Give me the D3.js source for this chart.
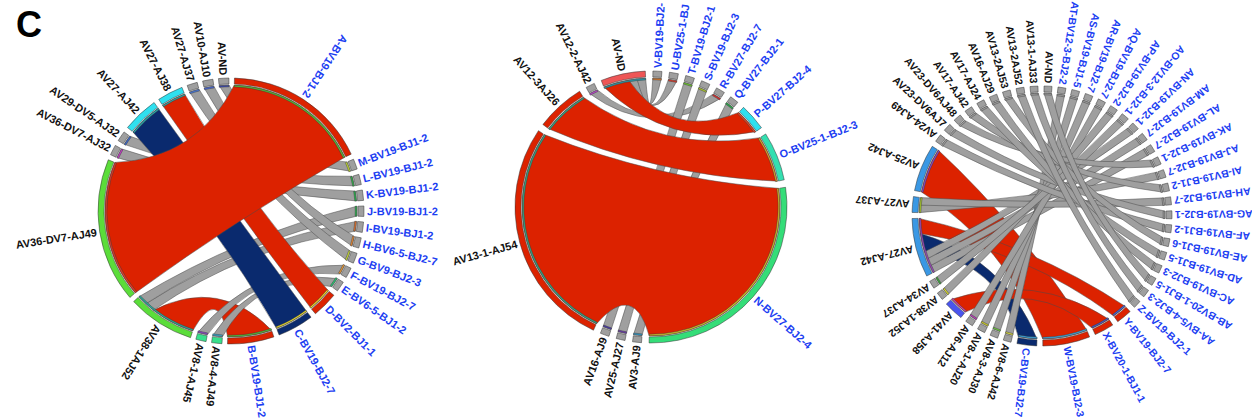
<!DOCTYPE html>
<html>
<head>
<meta charset="utf-8">
<script src="https://cdn.jsdelivr.net/npm/d3@7"></script>
<style>
  html, body { margin: 0; padding: 0; background: #fff; }
  svg { display: block; font-family: "Liberation Sans", Arial, sans-serif; }
</style>
</head>
<body>
<svg id="chart" width="1252" height="420"></svg>
<script>
// ---------- Panel 1: TCR alpha / beta pairings ----------
const p1Beta = ["A-BV19-BJ1-2","M-BV19-BJ1-2","L-BV19-BJ1-2","K-BV19-BJ1-2","J-BV19-BJ1-2",
  "I-BV19-BJ1-2","H-BV6-5-BJ2-7","G-BV9-BJ2-3","F-BV19-BJ2-7","E-BV6-5-BJ1-2",
  "D-BV2-BJ1-1","C-BV19-BJ2-7","B-BV19-BJ1-2"];
const p1Alpha = ["AV8-4-AJ49","AV8-1-AJ45","AV38-1AJ52","AV36-DV7-AJ49","AV36-DV7-AJ32",
  "AV29-DV5-AJ32","AV27-AJ42","AV27-AJ38","AV27-AJ37","AV10-AJ10","AV-ND"];
// [alpha, beta, clone count, chord class]
const p1Pairs = [
  ["AV36-DV7-AJ49","A-BV19-BJ1-2",28,"red"],
  ["AV38-1AJ52","B-BV19-BJ1-2",9,"red"],
  ["AV27-AJ42","C-BV19-BJ2-7",7,"navy"],
  ["AV27-AJ38","D-BV2-BJ1-1",5,"red"],
  ["AV8-4-AJ49","E-BV6-5-BJ1-2",2,"gray"],
  ["AV8-1-AJ45","F-BV19-BJ2-7",2,"gray"],
  ["AV38-1AJ52","I-BV19-BJ1-2",2,"gray"],
  ["AV38-1AJ52","J-BV19-BJ1-2",2,"gray"],
  ["AV36-DV7-AJ32","K-BV19-BJ1-2",2,"gray"],
  ["AV29-DV5-AJ32","L-BV19-BJ1-2",2,"gray"],
  ["AV27-AJ37","G-BV9-BJ2-3",2,"gray"],
  ["AV10-AJ10","H-BV6-5-BJ2-7",2,"gray"],
  ["AV-ND","M-BV19-BJ1-2",2,"gray"]
];

// ---------- Panel 2 ----------
const p2Beta = ["V-BV19-BJ2-","U-BV25-1-BJ","T-BV19-BJ2-1","S-BV19-BJ2-3","R-BV27-BJ2-7",
  "Q-BV27-BJ2-1","P-BV27-BJ2-4","O-BV25-1-BJ2-3","N-BV27-BJ2-4"];
const p2Alpha = ["AV3-AJ9","AV25-AJ27","AV16-AJ9","AV13-1-AJ54","AV12-3AJ26","AV12-2-AJ42","AV-ND"];
const p2Pairs = [
  ["AV13-1-AJ54","N-BV27-BJ2-4",26,"red"],
  ["AV12-3AJ26","O-BV25-1-BJ2-3",5.5,"red"],
  ["AV-ND","P-BV27-BJ2-4",3,"red"],
  ["AV-ND","U-BV25-1-BJ",1,"gray"],
  ["AV-ND","V-BV19-BJ2-",1,"gray"],
  ["AV12-2-AJ42","R-BV27-BJ2-7",1,"gray"],
  ["AV16-AJ9","T-BV19-BJ2-1",1,"gray"],
  ["AV25-AJ27","S-BV19-BJ2-3",1,"gray"],
  ["AV3-AJ9","Q-BV27-BJ2-1",1,"gray"]
];

// ---------- Panel 3 ----------
const p3Beta = ["AT-BV12-3-BJ2-2","AS-BV19-BJ1-5","AR-BV19-BJ2-7","AQ-BV19-BJ2-7","AP-BV19-BJ2-2",
  "AO-BV12-3-BJ2-1","AN-BV19-BJ2-1","AM-BV19-BJ2-7","AL-BV19-BJ2-7","AK-BV19-BJ2-1",
  "AJ-BV19-BJ2-7","AI-BV19-BJ1-2","AH-BV19-BJ2-7","AG-BV19-BJ2-1","AF-BV19-BJ1-2",
  "AE-BV19-BJ1-6","AD-BV19-BJ1-5","AC-BV19-BJ2-3","AB-BV20-1-BJ1-5","AA-BV5-4-BJ2-3",
  "Z-BV19-BJ2-1","Y-BV19-BJ2-7","X-BV20-1-BJ1-1","W-BV19-BJ2-3","C-BV19-BJ2-7"];
const p3Alpha = ["AV8-6-AJ42","AV8-3-AJ30","AV8-1-AJ20","AV6-AJ12","AV41-AJ58","AV38-1AJ52",
  "AV34-AJ37","AV27-AJ42","AV27-AJ37","AV25-AJ42","AV24-AJ49","AV23-DV6AJ7","AV23-DV6AJ48",
  "AV17-AJ42","AV17-AJ24","AV16-AJ29","AV13-2AJ53","AV13-2AJ52","AV13-1-AJ33","AV-ND"];
const p3Pairs = [
  ["AV25-AJ42","W-BV19-BJ2-3",6,"red"],
  ["AV41-AJ58","X-BV20-1-BJ1-1",2.5,"red"],
  ["AV27-AJ42","AL-BV19-BJ2-7",1,"gray"],
  ["AV27-AJ42","AM-BV19-BJ2-7",1,"gray"],
  ["AV27-AJ42","AN-BV19-BJ2-1",1,"gray"],
  ["AV27-AJ42","C-BV19-BJ2-7",2.5,"navy"],
  ["AV27-AJ42","Y-BV19-BJ2-7",2,"red"],
  ["AV27-AJ37","AJ-BV19-BJ2-7",1,"gray"],
  ["AV27-AJ37","AH-BV19-BJ2-7",1,"gray"],
  ["AV8-6-AJ42","AT-BV12-3-BJ2-2",1,"gray"],
  ["AV8-3-AJ30","AS-BV19-BJ1-5",1,"gray"],
  ["AV8-1-AJ20","AR-BV19-BJ2-7",1,"gray"],
  ["AV6-AJ12","AQ-BV19-BJ2-7",1,"gray"],
  ["AV38-1AJ52","AP-BV19-BJ2-2",1,"gray"],
  ["AV34-AJ37","AO-BV12-3-BJ2-1",1,"gray"],
  ["AV24-AJ49","AF-BV19-BJ1-2",1,"gray"],
  ["AV23-DV6AJ7","AG-BV19-BJ2-1",1,"gray"],
  ["AV23-DV6AJ48","AK-BV19-BJ2-1",1,"gray"],
  ["AV17-AJ42","AI-BV19-BJ1-2",1,"gray"],
  ["AV17-AJ24","AD-BV19-BJ1-5",1,"gray"],
  ["AV16-AJ29","AC-BV19-BJ2-3",1,"gray"],
  ["AV13-2AJ53","AE-BV19-BJ1-6",1,"gray"],
  ["AV13-2AJ52","Z-BV19-BJ2-1",1,"gray"],
  ["AV13-1-AJ33","AA-BV5-4-BJ2-3",1,"gray"],
  ["AV-ND","AB-BV20-1-BJ1-5",1,"gray"]
];

// ---------- styling ----------
const chordFill = { red: "#dc2200", navy: "#0a2a6e", gray: "#9f9f9f" };
const RED = "#dc2200", NAVY = "#0a2a6e", GRAY = "#9f9f9f";
const GREEN = "#5bdd3a", MINT = "#38e08c", CYAN = "#2fe0ef", SKY = "#3a98e4";

const panels = [
  {
    beta: p1Beta, alpha: p1Alpha, pairs: p1Pairs,
    cx: 231, cy: 211, R: 133, start: 1.5, gap: 2.4, flip: 232, fontSize: 11,
    layer: (p) => p[1].startsWith("A-") ? 3 : p[1].startsWith("B-") ? 0 : p[3] === "gray" ? 1 : 2,
    band: {
      "A-BV19-BJ1-2": RED, "B-BV19-BJ1-2": RED, "D-BV2-BJ1-1": RED, "C-BV19-BJ2-7": NAVY,
      "AV36-DV7-AJ49": GREEN, "AV38-1AJ52": GREEN, "AV8-4-AJ49": MINT, "AV8-1-AJ45": MINT,
      "AV27-AJ42": CYAN, "AV27-AJ38": CYAN
    },
    stripe: {
      "A-BV19-BJ1-2": "#4ec23a", "M-BV19-BJ1-2": "#c4dd30", "L-BV19-BJ1-2": "#2fb24a",
      "K-BV19-BJ1-2": "#22b84a", "J-BV19-BJ1-2": "#22b84a", "I-BV19-BJ1-2": "#e8732a",
      "H-BV6-5-BJ2-7": "#ee8a30", "G-BV9-BJ2-3": "#cde03a", "F-BV19-BJ2-7": "#f09a30",
      "E-BV6-5-BJ1-2": "#28c472", "D-BV2-BJ1-1": "#e8d82a", "C-BV19-BJ2-7": "#e8d82a",
      "B-BV19-BJ1-2": "#4ec23a", "AV8-4-AJ49": "#3aa6cc", "AV8-1-AJ45": "#8a48c8",
      "AV38-1AJ52": "#2aa89a", "AV36-DV7-AJ49": "#e03a2a", "AV36-DV7-AJ32": "#c83ac8",
      "AV29-DV5-AJ32": "#3a68cc", "AV27-AJ42": "#2aa8aa", "AV27-AJ38": "#2aa8aa",
      "AV27-AJ37": "#4a7ad8", "AV10-AJ10": "#4a6ad8", "AV-ND": "#3a48b0"
    }
  },
  {
    beta: p2Beta, alpha: p2Alpha, pairs: p2Pairs,
    cx: 651, cy: 207, R: 136, start: 0.8, gap: 3.2, flip: 180, fontSize: 11,
    layer: (p) => p[3] === "gray" ? 0 : 1,
    band: {
      "AV-ND": "#ee5656", "AV13-1-AJ54": RED, "AV12-3AJ26": RED,
      "P-BV27-BJ2-4": CYAN, "O-BV25-1-BJ2-3": "#34dfb0", "N-BV27-BJ2-4": "#34dd78"
    },
    stripe: {
      "V-BV19-BJ2-": "#dd7a2a", "U-BV25-1-BJ": "#dd3a2a", "T-BV19-BJ2-1": "#6ccc2a",
      "S-BV19-BJ2-3": "#b0cc2a", "R-BV27-BJ2-7": "#dd2a2a", "Q-BV27-BJ2-1": "#2aaa4a",
      "P-BV27-BJ2-4": "#dd4a2a", "O-BV25-1-BJ2-3": "#ddaa2a", "N-BV27-BJ2-4": "#cfc02a",
      "AV3-AJ9": "#2a9acc", "AV25-AJ27": "#6a3aaa", "AV16-AJ9": "#4a3aaa",
      "AV13-1-AJ54": "#2aaa8a", "AV12-3AJ26": "#2aaa8a", "AV12-2-AJ42": "#bb48cc",
      "AV-ND": "#2a9aaa"
    }
  },
  {
    beta: p3Beta, alpha: p3Alpha, pairs: p3Pairs,
    cx: 1042, cy: 216, R: 130, start: 7.1, gap: 2.68, flip: 312, fontSize: 10.5,
    layer: (p) => p[3] === "navy" ? 0 : p[3] === "red" ? 1 : 2,
    band: {
      "W-BV19-BJ2-3": RED, "X-BV20-1-BJ1-1": RED, "Y-BV19-BJ2-7": RED, "C-BV19-BJ2-7": NAVY,
      "AV25-AJ42": SKY, "AV27-AJ37": SKY, "AV27-AJ42": SKY, "AV41-AJ58": "#4a55ee"
    },
    stripe: {
      "W-BV19-BJ2-3": "#3aa8e0", "X-BV20-1-BJ1-1": "#3a5ad0", "Y-BV19-BJ2-7": "#3a68dd",
      "C-BV19-BJ2-7": "#3aa8e0", "AV25-AJ42": "#8a48cc", "AV27-AJ37": "#aacc2a",
      "AV27-AJ42": "#9a48bb", "AV34-AJ37": "#3aaa3a", "AV38-1AJ52": "#dddd2a",
      "AV41-AJ58": "#cc48aa", "AV6-AJ12": "#bb3abb", "AV8-1-AJ20": "#cccc2a",
      "AV8-3-AJ30": "#6acc3a", "AV8-6-AJ42": "#dddd3a"
    }
  }
];

const svg = d3.select("#chart");
const toRad = d => d * Math.PI / 180;
const BLUE_TEXT = "#1c3ef2";

function drawPanel(cfg) {
  const order = cfg.beta.concat(cfg.alpha);
  const betaSet = new Set(cfg.beta);
  const total = new Map(order.map(n => [n, 0]));
  cfg.pairs.forEach(([a, b, v]) => {
    total.set(a, total.get(a) + v);
    total.set(b, total.get(b) + v);
  });
  const grand = d3.sum(order, n => total.get(n));
  // clone counts -> degrees of arc, after removing the gaps between sectors
  const angle = d3.scaleLinear().domain([0, grand]).range([0, 360 - order.length * cfg.gap]);

  const sectors = new Map();
  let cum = 0;
  order.forEach((n, i) => {
    const a0 = cfg.start + angle(cum) + i * cfg.gap;
    cum += total.get(n);
    const a1 = cfg.start + angle(cum) + i * cfg.gap;
    sectors.set(n, { name: n, a0, a1, cur: a0 });
  });

  // link ends are stacked inside each sector in list order
  const links = cfg.pairs.map((p, i) => {
    const sa = sectors.get(p[0]), sb = sectors.get(p[1]);
    const w = angle(p[2]);
    const ea = [sa.cur, sa.cur + w]; sa.cur += w;
    const eb = [sb.cur, sb.cur + w]; sb.cur += w;
    return { p, i, ea, eb, layer: cfg.layer(p) };
  });

  const g = svg.append("g").attr("transform", `translate(${cfg.cx},${cfg.cy})`);
  const R = cfg.R;
  const rLink = R - 7;
  const k = 0.6;
  const pt = (deg, r) => [r * Math.cos(toRad(deg - 90)), r * Math.sin(toRad(deg - 90))];

  function ribbon(ea, eb) {
    const p = d3.path();
    const s0 = pt(ea[0], rLink), s1 = pt(ea[1], rLink);
    const t0 = pt(eb[0], rLink), t1 = pt(eb[1], rLink);
    p.moveTo(s0[0], s0[1]);
    p.arc(0, 0, rLink, toRad(ea[0] - 90), toRad(ea[1] - 90));
    p.quadraticCurveTo(k * (s1[0] + t0[0]) / 2, k * (s1[1] + t0[1]) / 2, t0[0], t0[1]);
    p.arc(0, 0, rLink, toRad(eb[0] - 90), toRad(eb[1] - 90));
    p.quadraticCurveTo(k * (t1[0] + s0[0]) / 2, k * (t1[1] + s0[1]) / 2, s0[0], s0[1]);
    p.closePath();
    return p.toString();
  }

  const drawOrder = links.slice().sort((a, b) => a.layer - b.layer || a.i - b.i);
  g.append("g").selectAll("path").data(drawOrder).join("path")
    .attr("d", d => ribbon(d.ea, d.eb))
    .attr("fill", d => chordFill[d.p[3]])
    .attr("stroke", "#4a4a4a")
    .attr("stroke-width", 0.5);

  const secList = Array.from(sectors.values());
  const band = d3.arc().innerRadius(R - 6).outerRadius(R)
    .startAngle(d => toRad(d.a0)).endAngle(d => toRad(d.a1));
  const stripe = d3.arc().innerRadius(R - 8.8).outerRadius(R - 7.2)
    .startAngle(d => toRad(d.a0)).endAngle(d => toRad(d.a1));

  g.append("g").selectAll("path").data(secList).join("path")
    .attr("d", band)
    .attr("fill", d => cfg.band[d.name] || GRAY)
    .attr("stroke", "#333")
    .attr("stroke-width", 0.5);

  g.append("g").selectAll("path").data(secList).join("path")
    .attr("d", stripe)
    .attr("fill", d => cfg.stripe[d.name] || GRAY)
    .attr("stroke", "#3a3a3a")
    .attr("stroke-width", 0.45);

  // radial sector labels, turned so they never read upside down in the flip half
  const isFlipped = d => ((((d.a0 + d.a1) / 2 - cfg.flip) % 360) + 360) % 360 < 180;
  g.append("g").selectAll("text").data(secList).join("text")
    .attr("transform", d => {
      const m = (d.a0 + d.a1) / 2;
      return `rotate(${m - 90}) translate(${R + 3},0)` + (isFlipped(d) ? " rotate(180)" : "");
    })
    .attr("text-anchor", d => isFlipped(d) ? "end" : "start")
    .attr("dy", "0.36em")
    .attr("font-size", cfg.fontSize)
    .attr("font-weight", "bold")
    .attr("fill", d => betaSet.has(d.name) ? BLUE_TEXT : "#111")
    .text(d => d.name);
}

panels.forEach(drawPanel);

svg.append("text")
  .attr("x", 16).attr("y", 37)
  .attr("font-size", 36).attr("font-weight", "bold").attr("fill", "#000")
  .text("C");
</script>
</body>
</html>
